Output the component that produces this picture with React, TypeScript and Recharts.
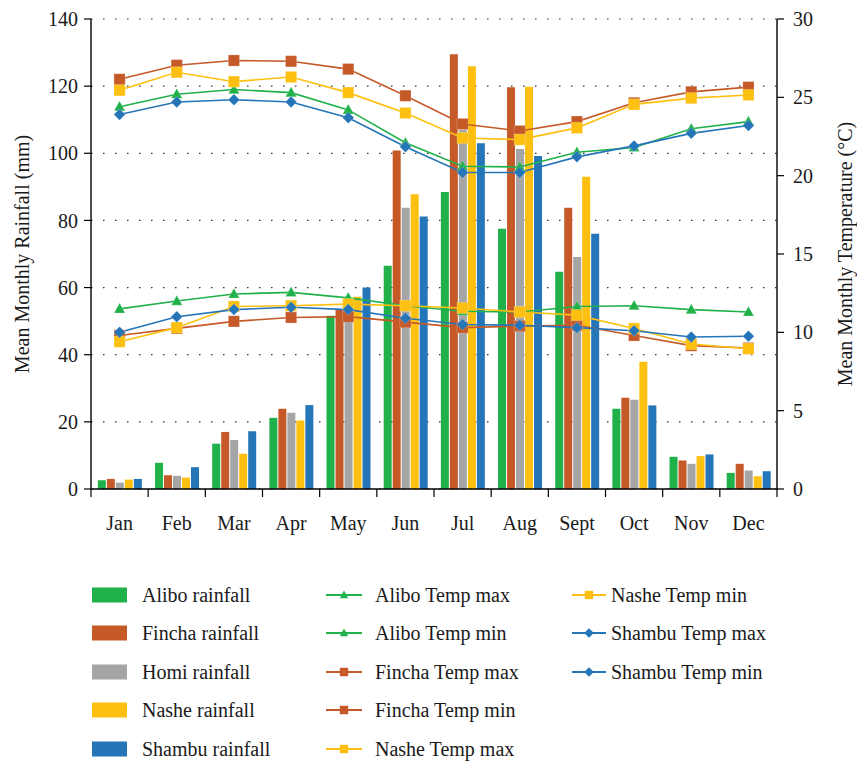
import React from 'react';
import { ComposedChart, Bar, Line, XAxis, YAxis, CartesianGrid } from 'recharts';

// Months and mean monthly rainfall (mm) per station
const months = ['Jan', 'Feb', 'Mar', 'Apr', 'May', 'Jun', 'Jul', 'Aug', 'Sept', 'Oct', 'Nov', 'Dec'];
const aliboRain = [2.6, 7.8, 13.5, 21.2, 51.6, 66.5, 88.5, 77.5, 64.7, 23.9, 9.6, 4.8];
const finchaRain = [3.0, 4.1, 17.0, 23.9, 53.5, 100.8, 129.5, 119.7, 83.8, 27.2, 8.5, 7.5];
const homiRain = [1.9, 3.9, 14.6, 22.7, 52.0, 83.8, 107.0, 101.3, 69.1, 26.6, 7.5, 5.5];
const nasheRain = [2.8, 3.4, 10.5, 20.4, 57.3, 87.8, 125.9, 119.8, 93.0, 37.9, 9.8, 3.8];
const shambuRain = [3.0, 6.5, 17.2, 25.0, 60.0, 81.2, 103.0, 99.2, 76.0, 24.9, 10.3, 5.3];

// Mean monthly temperature (°C) per station
const aliboTmax = [24.4, 25.2, 25.5, 25.3, 24.2, 22.1, 20.6, 20.55, 21.5, 21.8, 23.0, 23.45];
const aliboTmin = [11.5, 12.0, 12.45, 12.55, 12.2, 11.7, 11.35, 11.3, 11.65, 11.7, 11.45, 11.3];
const finchaTmax = [26.15, 27.05, 27.35, 27.3, 26.8, 25.1, 23.3, 22.85, 23.45, 24.65, 25.35, 25.65];
const finchaTmin = [9.8, 10.25, 10.7, 10.95, 11.0, 10.65, 10.3, 10.4, 10.45, 9.8, 9.15, 9.0];
const nasheTmax = [25.45, 26.6, 26.0, 26.3, 25.3, 24.0, 22.4, 22.3, 23.05, 24.55, 24.95, 25.15];
const nasheTmin = [9.4, 10.3, 11.65, 11.7, 11.8, 11.7, 11.55, 11.3, 11.1, 10.25, 9.25, 8.95];
const shambuTmax = [23.9, 24.7, 24.85, 24.7, 23.7, 21.85, 20.2, 20.2, 21.2, 21.9, 22.7, 23.2];
const shambuTmin = [10.0, 11.0, 11.45, 11.6, 11.45, 10.9, 10.5, 10.45, 10.3, 10.1, 9.7, 9.75];

// Axis ticks
const rainTicks = [0, 20, 40, 60, 80, 100, 120, 140];
const tempTicks = [0, 5, 10, 15, 20, 25, 30];

const GREEN = '#21b14b';
const ORANGE = '#c55a28';
const GRAY = '#a5a5a5';
const YELLOW = '#fdc010';
const BLUE = '#2575b9';

const FONT = '"Liberation Serif", "Times New Roman", serif';
const TEXT = '#1a1a1a';

const CHART_W = 849;
const CHART_H = 540;
const LEFT_W = 83;
const RIGHT_W = 80;
const TOP = 11;
const XAXIS_H = 59;
const PLOT_W = CHART_W - LEFT_W - RIGHT_W;
const BAND = PLOT_W / months.length;

const data = months.map((m, i) => ({
  month: m,
  aliboRain: aliboRain[i],
  finchaRain: finchaRain[i],
  homiRain: homiRain[i],
  nasheRain: nasheRain[i],
  shambuRain: shambuRain[i],
  aliboTmax: aliboTmax[i],
  aliboTmin: aliboTmin[i],
  finchaTmax: finchaTmax[i],
  finchaTmin: finchaTmin[i],
  nasheTmax: nasheTmax[i],
  nasheTmin: nasheTmin[i],
  shambuTmax: shambuTmax[i],
  shambuTmin: shambuTmin[i],
}));

type Shape = 'triangle' | 'square' | 'diamond';

const barSeries = [
  { key: 'aliboRain', name: 'Alibo rainfall', color: GREEN },
  { key: 'finchaRain', name: 'Fincha rainfall', color: ORANGE },
  { key: 'homiRain', name: 'Homi rainfall', color: GRAY },
  { key: 'nasheRain', name: 'Nashe rainfall', color: YELLOW },
  { key: 'shambuRain', name: 'Shambu rainfall', color: BLUE },
];

const lineSeries: { key: string; name: string; color: string; shape: Shape }[] = [
  { key: 'aliboTmax', name: 'Alibo Temp max', color: GREEN, shape: 'triangle' },
  { key: 'aliboTmin', name: 'Alibo Temp min', color: GREEN, shape: 'triangle' },
  { key: 'finchaTmax', name: 'Fincha Temp max', color: ORANGE, shape: 'square' },
  { key: 'finchaTmin', name: 'Fincha Temp min', color: ORANGE, shape: 'square' },
  { key: 'nasheTmax', name: 'Nashe Temp max', color: YELLOW, shape: 'square' },
  { key: 'nasheTmin', name: 'Nashe Temp min', color: YELLOW, shape: 'square' },
  { key: 'shambuTmax', name: 'Shambu Temp max', color: BLUE, shape: 'diamond' },
  { key: 'shambuTmin', name: 'Shambu Temp min', color: BLUE, shape: 'diamond' },
];

function markerPath(shape: Shape, cx: number, cy: number, s: number) {
  if (shape === 'triangle') {
    return `M${cx},${cy - s * 1.05}L${cx + s},${cy + s * 0.75}L${cx - s},${cy + s * 0.75}Z`;
  }
  if (shape === 'square') {
    return `M${cx - s},${cy - s}H${cx + s}V${cy + s}H${cx - s}Z`;
  }
  return `M${cx},${cy - s * 1.15}L${cx + s * 1.15},${cy}L${cx},${cy + s * 1.15}L${cx - s * 1.15},${cy}Z`;
}

const markerSize: Record<Shape, number> = { triangle: 5.5, square: 5.6, diamond: 5 };

function makeDot(key: string, shape: Shape, color: string) {
  return (props: any) => {
    const { cx, cy, index } = props;
    if (cx == null || cy == null) return <g key={`${key}-${index}`} />;
    return (
      <path
        key={`${key}-${index}`}
        d={markerPath(shape, cx, cy, markerSize[shape])}
        fill={color}
        stroke="#ffffff"
        strokeOpacity={0.35}
        strokeWidth={0.6}
      />
    );
  };
}

const MonthTick = (props: any) => {
  const { x, y, payload, index } = props;
  const left = x - BAND / 2;
  const right = x + BAND / 2;
  return (
    <g>
      <line x1={left} x2={left} y1={y} y2={y + 8} stroke="#000" strokeWidth={1.2} />
      {index === months.length - 1 && (
        <line x1={right} x2={right} y1={y} y2={y + 8} stroke="#000" strokeWidth={1.2} />
      )}
      <text x={x} y={y + 41} textAnchor="middle" fontSize={20} fontFamily={FONT} fill={TEXT}>
        {payload.value}
      </text>
    </g>
  );
};

const LeftTitle = (props: any) => {
  const vb = props.viewBox || { x: 0, y: TOP, width: LEFT_W, height: 470 };
  const cx = 14;
  const cy = vb.y + vb.height / 2;
  return (
    <text
      x={cx}
      y={cy}
      transform={`rotate(-90 ${cx} ${cy})`}
      textAnchor="middle"
      dominantBaseline="central"
      fontSize={20}
      fontFamily={FONT}
      fill={TEXT}
    >
      Mean Monthly Rainfall (mm)
    </text>
  );
};

const RightTitle = (props: any) => {
  const vb = props.viewBox || { x: CHART_W - RIGHT_W, y: TOP, width: RIGHT_W, height: 470 };
  const cx = CHART_W - RIGHT_W + 68;
  const cy = vb.y + vb.height / 2;
  return (
    <text
      x={cx}
      y={cy}
      transform={`rotate(-90 ${cx} ${cy})`}
      textAnchor="middle"
      dominantBaseline="central"
      fontSize={20}
      fontFamily={FONT}
      fill={TEXT}
    >
      Mean Monthly Temperature (°C)
    </text>
  );
};

// Legend layout: three columns, rows 38.5px apart
const ROW_Y = [586.5, 625, 663.5, 702, 740.5];
const legendItems = [
  ...barSeries.map((s, i) => ({ ...s, kind: 'bar' as const, col: 0, row: i })),
  ...lineSeries.map((s, i) => ({
    ...s,
    kind: 'line' as const,
    col: i < 5 ? 1 : 2,
    row: i < 5 ? i : i - 5,
  })),
];
const COLS = [
  { icon: 84, iconW: 35, text: 134 },
  { icon: 318, iconW: 36, text: 367 },
  { icon: 564, iconW: 34, text: 603 },
];

const ChartLegend = () => (
  <>
    {legendItems.map((it) => {
      const c = COLS[it.col];
      const y = ROW_Y[it.row];
      return (
        <React.Fragment key={it.key}>
          <svg
            width={c.iconW}
            height={16}
            style={{ position: 'absolute', left: c.icon, top: y - 8 }}
          >
            {it.kind === 'bar' ? (
              <rect x={0} y={0.5} width={c.iconW} height={15} fill={it.color} />
            ) : (
              <>
                <line x1={0} x2={c.iconW} y1={8} y2={8} stroke={it.color} strokeWidth={1.8} />
                <path d={markerPath((it as any).shape, c.iconW / 2, 8, 4.2)} fill={it.color} />
              </>
            )}
          </svg>
          <div
            style={{
              position: 'absolute',
              left: c.text,
              top: y - 13,
              height: 26,
              lineHeight: '26px',
              fontSize: 20,
              fontFamily: FONT,
              color: TEXT,
              whiteSpace: 'nowrap',
            }}
          >
            {it.name}
          </div>
        </React.Fragment>
      );
    })}
  </>
);

export default function App() {
  return (
    <div
      style={{
        position: 'absolute',
        left: 0,
        top: 0,
        width: 857,
        height: 762,
        overflow: 'hidden',
        background: '#fff',
      }}
    >
      <div
        style={{
          position: 'absolute',
          left: 8,
          top: 8,
          width: CHART_W,
          height: 754,
          fontFamily: FONT,
        }}
      >
        <ComposedChart
          width={CHART_W}
          height={CHART_H}
          data={data}
          margin={{ top: TOP, right: 0, bottom: 0, left: 0 }}
          barCategoryGap="12%"
          barGap={1}
        >
          <CartesianGrid
            yAxisId="left"
            vertical={false}
            stroke="#333"
            strokeWidth={1.2}
            strokeDasharray="1.5 10.5"
          />
          <XAxis
            dataKey="month"
            height={XAXIS_H}
            interval={0}
            tickLine={false}
            tickSize={0}
            tickMargin={0}
            tick={<MonthTick />}
            axisLine={{ stroke: '#000', strokeWidth: 1.4 }}
          />
          <YAxis
            yAxisId="left"
            orientation="left"
            width={LEFT_W}
            domain={[0, 140]}
            ticks={rainTicks}
            interval={0}
            tickSize={7}
            tickMargin={6}
            axisLine={{ stroke: '#000', strokeWidth: 1.4 }}
            tickLine={{ stroke: '#000', strokeWidth: 1.2 }}
            tick={{ fill: TEXT, fontSize: 20, fontFamily: FONT }}
            label={<LeftTitle />}
          />
          <YAxis
            yAxisId="right"
            orientation="right"
            width={RIGHT_W}
            domain={[0, 30]}
            ticks={tempTicks}
            interval={0}
            tickSize={7}
            tickMargin={9}
            axisLine={{ stroke: '#000', strokeWidth: 1.4 }}
            tickLine={{ stroke: '#000', strokeWidth: 1.2 }}
            tick={{ fill: TEXT, fontSize: 20, fontFamily: FONT }}
            label={<RightTitle />}
          />
          {barSeries.map((s) => (
            <Bar
              key={s.key}
              yAxisId="left"
              dataKey={s.key}
              name={s.name}
              fill={s.color}
              isAnimationActive={false}
            />
          ))}
          {lineSeries.map((s) => (
            <Line
              key={s.key}
              yAxisId="right"
              type="linear"
              dataKey={s.key}
              name={s.name}
              stroke={s.color}
              strokeWidth={1.6}
              dot={makeDot(s.key, s.shape, s.color)}
              activeDot={false}
              isAnimationActive={false}
            />
          ))}
        </ComposedChart>
        <ChartLegend />
      </div>
    </div>
  );
}
